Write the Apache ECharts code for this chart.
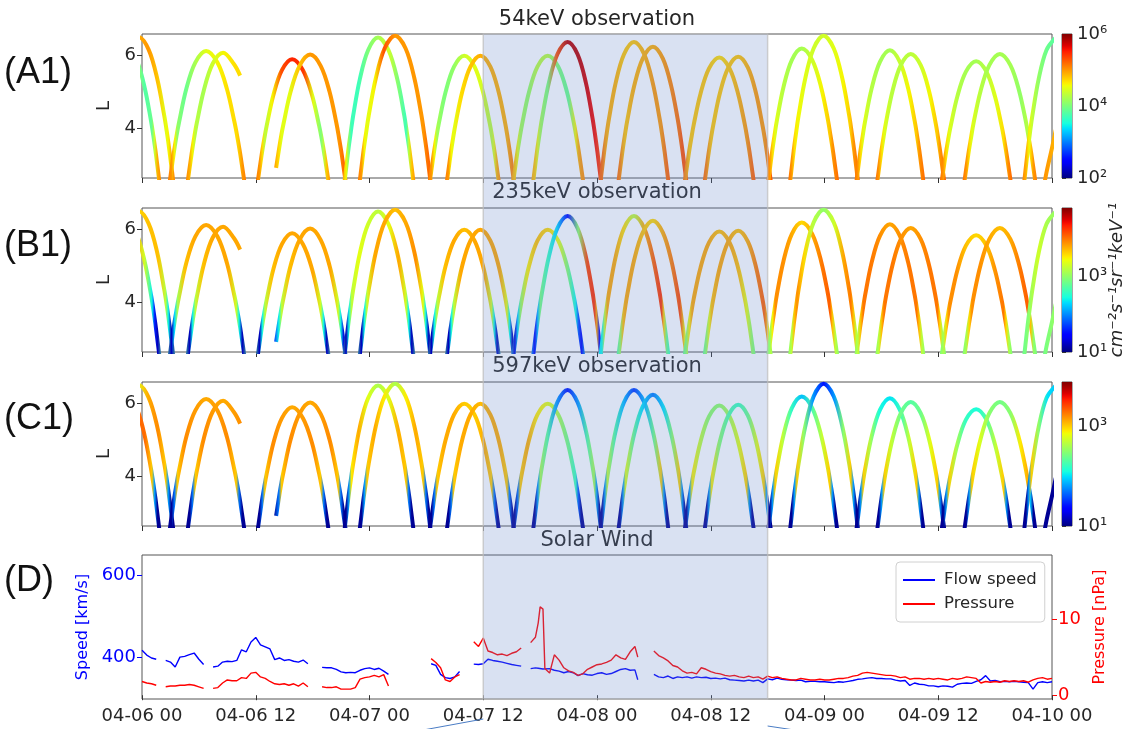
<!DOCTYPE html>
<html><head><meta charset="utf-8">
<script src="https://cdn.jsdelivr.net/npm/echarts@6/dist/echarts.min.js"></script>
<style>html,body{margin:0;padding:0;background:#fff}#c{width:1132px;height:729px}</style>
</head><body><div id="c"></div>
<script>
// ---------------- DATA ----------------
const timeTickLabels = ['04-06 00','04-06 12','04-07 00','04-07 12','04-08 00','04-08 12','04-09 00','04-09 12','04-10 00'];
const highlightHours = [36, 66];

// orbit arches (hours since 04-06 00, L shell), probe tracks shared by the three energy panels
const archHours = [
 [-1.6,-0.58,0.27,0.95,1.19,1.46,2.07],
 [-1.5,-0.4,0.70,1.62,2.35,2.61,2.90,3.56],
 [2.66,3.34,3.64,3.91,4.67,5.62,6.76,7.96,8.96,9.76,10.04,10.36,11.08],
 [4.56,5.23,5.52,5.78,6.52,7.44,8.55,9.69,10.35],
 [11.96,12.61,12.90,13.15,13.87,14.76,15.84,16.98,17.93,18.69,18.96,19.26,19.94],
 [14.15,14.66,14.93,15.68,16.62,17.74,18.85,19.78,20.52,20.77,21.07,21.74],
 [21.12,21.75,22.03,22.27,22.97,23.85,24.9,26.01,26.94,27.68,27.93,28.23,28.9],
 [22.7,23.37,23.67,23.92,24.66,25.59,26.7,27.81,28.74,29.48,29.73,30.03,30.7],
 [30.11,30.76,31.05,31.3,32.02,32.92,34.0,35.08,35.98,36.7,36.95,37.24,37.89],
 [31.92,32.55,32.83,33.07,33.77,34.65,35.7,36.75,37.63,38.33,38.57,38.85,39.48],
 [38.91,39.56,39.85,40.1,40.82,41.72,42.8,43.91,44.84,45.58,45.83,46.13,46.8],
 [41.01,41.66,41.95,42.2,42.92,43.82,44.9,45.95,46.83,47.53,47.77,48.05,48.68],
 [48.12,48.75,49.03,49.27,49.97,50.85,51.9,52.98,53.88,54.6,54.85,55.14,55.79],
 [50.01,50.66,50.95,51.2,51.92,52.82,53.9,54.95,55.83,56.53,56.77,57.05,57.68],
 [57.01,57.66,57.95,58.2,58.92,59.82,60.9,61.98,62.88,63.6,63.85,64.14,64.79],
 [59.12,59.75,60.03,60.27,60.97,61.85,62.9,63.92,64.77,65.45,65.69,65.96,66.57],
 [65.82,66.45,66.73,66.97,67.67,68.55,69.6,70.71,71.64,72.38,72.63,72.93,73.6],
 [68.12,68.75,69.03,69.27,69.97,70.85,71.9,72.98,73.88,74.6,74.85,75.14,75.79],
 [75.12,75.75,76.03,76.27,76.97,77.85,78.9,79.95,80.83,81.53,81.77,82.05,82.68],
 [77.32,77.95,78.23,78.47,79.17,80.05,81.1,82.15,83.03,83.73,83.97,84.25,84.88],
 [84.11,84.76,85.05,85.3,86.02,86.92,88.0,89.08,89.98,90.7,90.95,91.24,91.89],
 [86.5,87.17,87.47,87.72,88.46,89.39,90.5,91.61,92.54,93.28,93.53,93.83,94.5],
 [92.84,93.43,93.69,93.92,94.58,95.41,96.4],
 [94.9,95.4,96.0,96.4]
];
const archL = [
 [6.2,5.88,5.13,4.2,3.8,3.3,2.01],
 [6.17,6.52,6.17,5.35,4.34,3.91,3.36,1.96],
 [2.02,3.29,3.78,4.16,5.08,5.81,6.13,5.81,5.08,4.16,3.78,3.29,2.02],
 [2.03,3.28,3.76,4.14,5.04,5.77,6.08,5.77,5.45],
 [2.06,3.24,3.70,4.06,4.92,5.60,5.90,5.60,4.92,4.06,3.70,3.24,2.06],
 [2.90,3.75,4.12,5.01,5.72,6.03,5.72,5.01,4.12,3.75,3.27,2.04],
 [1.96,3.36,3.90,4.33,5.34,6.15,6.50,6.15,5.34,4.33,3.90,3.36,1.96],
 [1.95,3.37,3.92,4.35,5.37,6.20,6.55,6.20,5.37,4.35,3.92,3.37,1.95],
 [2.05,3.26,3.74,4.11,4.99,5.70,6.00,5.70,4.99,4.11,3.74,3.26,2.05],
 [2.05,3.26,3.74,4.11,4.99,5.70,6.00,5.70,4.99,4.11,3.74,3.26,2.05],
 [2.05,3.26,3.74,4.11,4.99,5.70,6.00,5.70,4.99,4.11,3.74,3.26,2.05],
 [1.98,3.33,3.86,4.27,5.25,6.04,6.38,6.04,5.25,4.27,3.86,3.33,1.98],
 [1.98,3.33,3.86,4.27,5.25,6.04,6.38,6.04,5.25,4.27,3.86,3.33,1.98],
 [2.00,3.31,3.82,4.22,5.16,5.92,6.25,5.92,5.16,4.22,3.82,3.31,2.00],
 [2.05,3.25,3.72,4.09,4.95,5.65,5.95,5.65,4.95,4.09,3.72,3.25,2.05],
 [2.05,3.26,3.73,4.09,4.97,5.67,5.97,5.67,4.97,4.09,3.73,3.26,2.05],
 [2.01,3.30,3.80,4.20,5.13,5.88,6.20,5.88,5.13,4.20,3.80,3.30,2.01],
 [1.95,3.37,3.92,4.35,5.37,6.20,6.55,6.20,5.37,4.35,3.92,3.37,1.95],
 [2.02,3.29,3.78,4.17,5.09,5.83,6.15,5.83,5.09,4.17,3.78,3.29,2.02],
 [2.04,3.27,3.75,4.13,5.02,5.74,6.05,5.74,5.02,4.13,3.75,3.27,2.04],
 [2.07,3.23,3.69,4.04,4.88,5.56,5.85,5.56,4.88,4.04,3.69,3.23,2.07],
 [2.04,3.27,3.75,4.13,5.02,5.74,6.05,5.74,5.02,4.13,3.75,3.27,2.04],
 [1.96,3.36,3.90,4.33,5.34,6.15,6.50],
 [2.0,2.75,3.45,3.95]
];
// log10 flux along each arch
const flux54 = [
 [4.4,4.2,3.8,3.9,4.4,4.9,5.2],
 [4.9,4.9,5.0,4.8,4.5,4.6,4.9,5.2],
 [5.2,5.0,4.6,4.1,3.9,4.2,4.5,4.6,4.7,4.7,4.8,5.0,5.2],
 [5.2,4.9,4.6,4.3,4.2,4.4,4.6,4.7,4.7],
 [5.2,5.0,4.7,4.3,4.6,5.3,5.5,5.4,4.5,4.0,4.3,4.8,5.2],
 [5.0,4.7,4.5,4.5,4.8,5.0,5.0,5.0,5.0,5.1,5.2,5.3],
 [5.2,4.6,4.0,3.7,3.7,4.0,4.2,4.4,4.0,3.7,4.3,4.8,5.2],
 [5.2,5.0,4.6,4.5,4.6,5.3,5.0,5.0,5.0,5.0,5.1,5.2,5.3],
 [5.2,5.0,4.6,4.2,4.0,4.1,4.4,4.5,4.4,4.3,4.5,4.9,5.2],
 [5.2,5.0,4.6,4.5,4.7,4.8,4.9,4.9,4.9,4.9,5.0,5.1,5.2],
 [5.1,4.8,4.5,4.2,4.1,4.3,4.3,4.0,3.9,4.6,4.9,5.0,5.1],
 [5.0,4.8,4.5,4.2,4.0,5.3,5.8,5.8,5.7,5.6,5.5,5.4,5.4],
 [5.3,5.2,5.0,4.9,4.9,4.8,4.8,4.9,5.0,5.0,5.1,5.2,5.3],
 [5.3,5.1,4.9,4.8,4.9,4.9,4.9,5.0,5.1,5.2,5.3,5.3,5.3],
 [5.3,5.0,4.8,4.8,4.8,4.8,4.7,4.8,4.9,5.0,5.1,5.2,5.3],
 [5.3,5.1,4.9,4.8,4.8,4.8,4.8,4.9,5.0,5.0,5.1,5.2,5.3],
 [5.3,5.0,4.7,4.5,4.3,4.2,4.2,4.4,4.6,4.8,5.0,5.1,5.3],
 [5.3,5.0,4.7,4.6,4.5,4.4,4.4,4.5,4.6,4.8,5.0,5.1,5.3],
 [5.3,5.0,4.7,4.5,4.3,4.2,4.2,4.4,4.6,4.8,5.0,5.1,5.3],
 [5.3,5.0,4.7,4.5,4.3,4.3,4.3,4.4,4.6,4.8,5.0,5.1,5.3],
 [5.3,5.0,4.7,4.5,4.3,4.2,4.2,4.3,4.5,4.7,4.9,5.1,5.3],
 [5.3,5.0,4.7,4.5,4.3,4.2,4.2,4.2,4.1,4.3,4.7,5.0,5.2],
 [5.2,4.9,4.6,4.4,4.1,3.9,3.8],
 [5.0,5.0,4.9,4.8]
];
const flux235 = [
 [3.8,3.8,3.3,2.4,1.6,1.2,2.8],
 [3.6,3.6,3.7,3.7,3.2,2.4,1.2,2.8],
 [2.8,1.2,2.3,3.1,3.7,3.8,3.8,3.8,3.8,3.3,2.4,1.2,2.8],
 [2.8,1.2,2.4,3.2,3.7,3.8,3.8,3.8,3.8],
 [2.8,1.2,2.4,3.2,3.7,3.8,3.8,3.8,3.8,3.3,2.4,1.2,2.8],
 [1.6,2.4,3.2,3.7,3.8,3.8,3.8,3.8,3.3,2.4,1.3,2.8],
 [2.8,1.2,2.4,3.2,3.4,3.3,3.2,3.4,3.8,3.3,2.4,1.2,2.8],
 [2.8,1.2,2.4,3.3,3.8,3.8,3.7,3.8,3.9,3.4,2.4,1.2,2.8],
 [2.8,1.2,2.4,3.2,3.7,3.8,3.7,3.8,3.8,3.3,2.4,1.2,2.8],
 [2.8,1.2,2.4,3.2,3.8,3.8,3.8,3.8,3.8,3.4,2.4,1.2,2.8],
 [2.6,1.3,2.3,3.0,3.5,3.7,3.6,3.4,2.9,2.4,1.8,1.4,2.4],
 [2.4,1.4,2.2,2.9,2.6,2.3,1.5,3.0,4.2,4.3,3.8,1.5,2.6],
 [2.3,2.4,3.3,3.8,3.8,3.6,3.2,3.8,4.1,4.3,3.6,2.8,2.4],
 [2.4,3.0,3.7,3.8,3.8,3.7,3.6,3.8,4.0,4.2,3.9,3.4,2.8],
 [2.6,3.0,3.5,3.8,3.8,3.8,3.7,3.8,3.7,3.4,3.2,3.0,2.8],
 [2.6,3.0,3.4,3.7,3.8,3.8,3.7,3.8,4.0,4.1,3.8,3.3,2.8],
 [2.8,3.0,3.5,3.9,3.9,3.8,3.6,3.8,4.0,4.1,3.7,3.2,2.8],
 [2.8,3.2,3.7,3.9,3.6,3.2,3.0,3.3,3.8,4.0,3.7,3.2,2.8],
 [2.8,3.2,3.7,4.0,4.0,3.9,3.8,3.9,4.0,4.0,3.7,3.2,2.8],
 [2.8,3.2,3.7,4.0,4.0,3.9,3.8,3.9,4.0,4.0,3.6,3.1,2.8],
 [2.8,3.1,3.6,3.9,3.9,3.7,3.6,3.7,3.9,4.0,3.6,3.1,2.8],
 [2.8,3.1,3.6,3.9,3.9,3.8,3.7,3.8,4.0,4.1,3.7,3.0,2.8],
 [2.8,2.9,3.0,3.1,3.3,3.1,3.0],
 [2.8,2.9,3.0,3.1]
];
const flux597 = [
 [3.3,3.3,3.3,3.0,1.8,1.05,1.05],
 [2.8,2.8,3.1,3.2,3.0,1.8,1.05,1.05],
 [1.05,1.05,1.7,3.0,3.2,3.15,3.1,3.15,3.2,3.0,1.7,1.05,1.05],
 [1.05,1.05,1.7,3.0,3.2,3.15,3.1,3.15,3.2],
 [1.05,1.05,1.7,3.0,3.2,3.15,3.1,3.15,3.2,3.0,1.7,1.05,1.05],
 [1.05,1.7,3.0,3.2,3.15,3.1,3.15,3.2,3.0,1.7,1.05,1.05],
 [1.05,1.05,1.8,2.9,3.1,2.8,2.6,2.8,3.1,3.0,1.7,1.05,1.05],
 [1.05,1.05,1.8,3.0,3.1,2.9,2.6,2.9,3.1,3.0,1.7,1.05,1.05],
 [1.05,1.05,1.7,3.0,3.1,3.1,3.0,3.0,3.1,3.0,1.7,1.05,1.05],
 [1.05,1.05,1.7,3.0,3.1,3.1,3.05,3.1,3.1,3.0,1.7,1.05,1.05],
 [1.05,1.05,1.7,3.0,3.1,2.9,2.8,2.6,2.4,2.2,1.6,1.05,1.05],
 [1.05,1.05,1.8,2.6,2.3,1.8,1.4,1.8,2.3,2.6,1.8,1.05,1.05],
 [1.05,1.05,1.8,2.7,2.3,1.9,1.5,1.9,2.4,3.0,1.8,1.05,1.05],
 [1.05,1.05,1.8,2.8,2.4,2.0,1.7,2.0,2.5,3.0,1.8,1.05,1.05],
 [1.05,1.05,1.8,2.9,2.7,2.5,2.5,2.6,2.8,3.0,1.8,1.05,1.05],
 [1.05,1.05,1.8,2.9,2.5,2.3,2.2,2.4,2.8,3.0,1.8,1.05,1.05],
 [1.05,1.05,1.8,3.0,2.7,2.2,1.9,2.3,2.7,3.0,1.8,1.05,1.05],
 [1.05,1.05,1.8,3.0,2.5,1.8,1.4,1.8,2.5,3.0,1.8,1.05,1.05],
 [1.05,1.05,1.8,3.0,2.6,2.1,2.0,2.2,2.7,3.0,1.8,1.05,1.05],
 [1.05,1.05,1.8,3.0,2.7,2.4,2.3,2.4,2.8,3.0,1.8,1.05,1.05],
 [1.05,1.05,1.8,3.0,2.6,2.2,2.1,2.3,2.7,3.0,1.8,1.05,1.05],
 [1.05,1.05,1.8,3.0,2.8,2.5,2.4,2.5,2.9,3.1,1.9,1.05,1.05],
 [1.05,1.05,1.8,3.0,2.5,2.0,1.9],
 [1.05,1.05,1.05,1.3]
];

// solar wind (hours since 04-06 00)
const swHours = [0,0.5,1,1.5,2,2.5,3,3.5,4,4.5,5,5.5,6,6.5,7,7.5,8,8.5,9,9.5,10,10.5,11,11.5,12,12.5,13,13.5,14,14.5,15,15.5,16,16.5,17,17.5,18,
 19,19.5,20,20.5,21,21.5,22,22.5,23,23.5,24,24.5,25,25.5,26,27,30.5,31,31.5,32,32.5,33,33.5,34,
 35,35.5,36,36.5,37,37.5,38,38.5,39,39.5,40,40.5,41,41.5,41.8,42,42.3,42.5,43,43.5,44,44.5,45,45.5,46,46.5,47,47.5,48,48.5,49,49.5,50,50.5,51,51.5,52,52.3,53,
 54,54.5,55,55.5,56,56.5,57,57.5,58,58.5,59,59.5,60,60.5,61,61.5,62,62.5,63,63.5,64,64.5,65,65.5,66,66.5,67,67.5,68,68.5,69,69.5,70,70.5,71,71.5,72,72.5,73,73.5,74,74.5,75,75.5,
 76,76.5,77,77.5,78,78.5,79,79.5,80,80.5,81,81.5,82,82.5,83,83.5,84,84.5,85,85.5,86,86.5,87,87.5,88,88.5,89,89.5,90,90.5,91,91.5,92,92.5,93,93.5,94,94.5,95,95.5,96];
const swSpeed = [417,405,398,395,null,392,388,376,400,402,406,410,395,382,null,376,378,388,390,389,392,418,413,437,448,430,425,420,394,398,392,394,390,388,393,384,null,
 375,374,374,370,364,362,363,362,368,372,374,370,373,366,358,null,384,380,358,350,348,352,365,null,
 383,382,384,395,392,390,388,385,382,380,378,null,372,374,373,372,371,370,372,368,366,362,365,362,355,360,357,356,360,362,358,360,365,370,372,368,369,345,null,
 358,352,350,354,348,352,350,352,349,352,350,351,348,349,347,349,345,344,343,342,344,342,344,338,347,345,349,346,345,344,343,344,340,341,341,340,340,339,338,340,339,341,343,346,
 347,349,350,348,348,347,347,344,342,343,331,337,334,333,330,330,328,330,329,327,334,336,337,336,341,345,355,342,343,340,341,340,341,340,339,338,322,338,340,338,340];
const swPressure = [1.8,1.6,1.5,1.3,null,1.1,1.2,1.2,1.3,1.3,1.4,1.3,1.1,0.9,null,0.9,1.0,1.6,2.0,1.9,1.9,2.3,2.2,2.9,3.0,2.4,2.2,1.8,1.5,1.4,1.5,1.3,1.5,1.2,1.6,1.1,null,
 1.1,1.0,1.0,1.1,0.8,0.8,0.8,1.0,2.1,2.3,2.4,2.6,2.4,2.7,1.2,null,4.8,4.3,3.6,2.0,1.8,2.4,2.7,null,
 7.0,6.4,7.5,5.8,5.6,5.3,5.4,5.2,5.5,5.7,6.2,null,6.9,7.6,9.5,11.6,11.3,3.5,2.9,5.3,4.6,3.6,3.2,3.0,2.6,2.8,3.4,3.7,4.0,4.1,4.3,4.6,5.3,4.9,4.7,5.7,6.4,5.0,null,
 5.8,5.2,4.9,4.5,3.9,3.7,3.2,2.9,3.0,2.8,3.6,3.4,3.1,2.9,2.8,2.6,2.5,2.6,2.4,2.3,2.5,2.3,2.4,2.1,2.5,2.3,2.4,2.2,2.1,2.0,2.0,2.2,2.1,2.0,2.0,2.1,2.0,2.0,2.1,2.2,2.2,2.3,2.5,2.6,
 2.9,3.0,2.9,2.8,2.7,2.6,2.6,2.5,2.3,2.4,2.1,2.2,2.2,2.1,2.2,2.1,2.2,2.1,2.0,2.2,2.1,2.2,2.4,2.3,2.2,1.6,1.8,1.7,1.8,1.7,1.9,1.8,1.9,1.8,1.9,1.7,2.0,2.2,2.3,2.1,2.2];

// ---------------- CHART ----------------
const FONT = 'DejaVu Sans';
const panels = [
 {title:'54keV observation', flux:flux54, cmin:2, cmax:6, cticks:[2,4,6], tag:'(A1)', top:34},
 {title:'235keV observation', flux:flux235, cmin:1, cmax:4.82, cticks:[1,3], tag:'(B1)', top:208},
 {title:'597keV observation', flux:flux597, cmin:1, cmax:3.88, cticks:[1,3], tag:'(C1)', top:382}
];
const dTop = 555, PH = 144, PL = 142, PW = 910;

function jet(f){
  f = Math.max(0, Math.min(1, f));
  const ip = pts => { for (let i=1;i<pts.length;i++){ if (f<=pts[i][0]){ const a=pts[i-1], b=pts[i]; return a[1]+(b[1]-a[1])*(f-a[0])/(b[0]-a[0]); } } return pts[pts.length-1][1]; };
  const r = ip([[0,0],[0.35,0],[0.66,1],[0.89,1],[1,0.5]]);
  const g = ip([[0,0],[0.125,0],[0.375,1],[0.64,1],[0.91,0],[1,0]]);
  const b = ip([[0,0.5],[0.11,1],[0.34,1],[0.65,0],[1,0]]);
  return 'rgb(' + Math.round(r*255) + ',' + Math.round(g*255) + ',' + Math.round(b*255) + ')';
}
const jetStops = [];
for (let i=0;i<=50;i++){ jetStops.push({offset:i/50, color:jet(i/50)}); }
const SUP = {'1':'¹','2':'²','3':'³','4':'⁴','5':'⁵','6':'⁶'};

const grid = [], xAxis = [], yAxis = [], series = [];
panels.forEach((p, i) => {
  grid.push({left:PL, top:p.top, width:PW, height:PH, show:true, borderColor:'#555', borderWidth:1, backgroundColor:'transparent'});
});
grid.push({left:PL, top:dTop, width:PW, height:PH, show:true, borderColor:'#555', borderWidth:1, backgroundColor:'transparent'});
panels.forEach((p, i) => {
  grid.push({left:1062, top:p.top, width:10, height:PH, show:true, borderColor:'#555', borderWidth:1, backgroundColor:'transparent'});
});

for (let i=0;i<4;i++){
  xAxis.push({type:'value', gridIndex:i, min:0, max:96, interval:12,
    axisLine:{show:false}, splitLine:{show:false},
    axisTick:{show:true, length:5, lineStyle:{color:'#333'}},
    axisLabel:{show:i===3, margin:8, fontSize:18, color:'#262626', fontFamily:FONT,
      formatter: v => timeTickLabels[Math.round(v/12)] || ''}});
}
for (let i=0;i<3;i++){
  xAxis.push({type:'value', gridIndex:4+i, min:0, max:1, show:false});
}
panels.forEach((p, i) => {
  yAxis.push({type:'value', gridIndex:i, min:2.62, max:6.6,
    axisLine:{show:false}, splitLine:{show:false},
    axisTick:{show:true, length:5, customValues:[4,6], lineStyle:{color:'#333'}},
    axisLabel:{customValues:[4,6], fontSize:18, color:'#262626', fontFamily:FONT, margin:6},
    name:'L', nameLocation:'middle', nameGap:26, nameRotate:90,
    nameTextStyle:{fontSize:18, color:'#262626', fontFamily:FONT}});
});
yAxis.push({type:'value', gridIndex:3, position:'left', min:298, max:649,
  axisLine:{show:false}, splitLine:{show:false},
  axisTick:{show:true, length:5, customValues:[400,600], lineStyle:{color:'#0000ff'}},
  axisLabel:{customValues:[400,600], fontSize:18, color:'#0000ff', fontFamily:FONT, margin:6},
  name:'Speed [km/s]', nameLocation:'middle', nameGap:41, nameRotate:90,
  nameTextStyle:{fontSize:16, color:'#0000ff', fontFamily:FONT}});
yAxis.push({type:'value', gridIndex:3, position:'right', min:-0.5, max:18.4,
  axisLine:{show:false}, splitLine:{show:false},
  axisTick:{show:true, length:5, customValues:[0,10], lineStyle:{color:'#ff0000'}},
  axisLabel:{customValues:[0,10], fontSize:18, color:'#ff0000', fontFamily:FONT, margin:6},
  name:'Pressure [nPa]', nameLocation:'middle', nameGap:40, nameRotate:90,
  nameTextStyle:{fontSize:16, color:'#ff0000', fontFamily:FONT}});
panels.forEach((p, i) => {
  yAxis.push({type:'value', gridIndex:4+i, position:'right', min:p.cmin, max:p.cmax,
    axisLine:{show:false}, splitLine:{show:false},
    axisTick:{show:true, length:4, customValues:p.cticks, lineStyle:{color:'#333'}},
    axisLabel:{customValues:p.cticks, fontSize:18, color:'#262626', fontFamily:FONT, margin:5,
      formatter: v => '10' + (SUP[String(Math.round(v))] || '')}});
});

// arches
panels.forEach((p, pi) => {
  archHours.forEach((hrs, k) => {
    const Ls = archL[k], fx = p.flux[k];
    const t0 = hrs[0], t1 = hrs[hrs.length-1];
    const stops = hrs.map((t, j) => ({offset:(t-t0)/(t1-t0), color:jet((fx[j]-p.cmin)/(p.cmax-p.cmin))}));
    series.push({type:'line', xAxisIndex:pi, yAxisIndex:pi, data:hrs.map((t, j) => [t, Ls[j]]),
      smooth:0.35, showSymbol:false, symbol:'none', silent:true, clip:true,
      lineStyle:{width:4, color:{type:'linear', x:0, y:0, x2:1, y2:0, colorStops:stops}}, z:2});
  });
  series.push({type:'custom', xAxisIndex:4+pi, yAxisIndex:5+pi, silent:true,
    data:[[0, p.cmin, 1, p.cmax]],
    renderItem:(params, api) => {
      const a = api.coord([api.value(0), api.value(3)]);
      const b = api.coord([api.value(2), api.value(1)]);
      return {type:'rect', shape:{x:a[0], y:a[1], width:b[0]-a[0], height:b[1]-a[1]},
        style:{fill:{type:'linear', x:0, y:1, x2:0, y2:0, colorStops:jetStops}}};
    }});
});
series.push({name:'Flow speed', type:'line', xAxisIndex:3, yAxisIndex:3,
  data:swHours.map((t, j) => [t, swSpeed[j]]), showSymbol:false, symbol:'none', connectNulls:false,
  lineStyle:{color:'#0000ff', width:1.4}, itemStyle:{color:'#0000ff'}, silent:true});
series.push({name:'Pressure', type:'line', xAxisIndex:3, yAxisIndex:4,
  data:swHours.map((t, j) => [t, swPressure[j]]), showSymbol:false, symbol:'none', connectNulls:false,
  lineStyle:{color:'#ff0000', width:1.4}, itemStyle:{color:'#ff0000'}, silent:true});

const chart = echarts.init(document.getElementById('c'), null, {renderer:'canvas', width:1132, height:729});
chart.setOption({
  animation:false,
  backgroundColor:'#ffffff',
  textStyle:{fontFamily:FONT},
  grid, xAxis, yAxis, series,
  legend:{data:['Flow speed','Pressure'], orient:'vertical', left:896, top:562,
    icon:'rect', itemWidth:32, itemHeight:2, itemGap:4, padding:[8,8,8,7],
    backgroundColor:'rgba(255,255,255,0.8)', borderColor:'#d0d0d0', borderWidth:1, borderRadius:4,
    selectedMode:false,
    textStyle:{fontSize:16.5, fontFamily:FONT, color:'#262626', lineHeight:20, padding:[0,0,0,4]}}
});

// decorations
const xa = chart.convertToPixel({xAxisIndex:3}, highlightHours[0]);
const xb = chart.convertToPixel({xAxisIndex:3}, highlightHours[1]);
const yTop = chart.convertToPixel({yAxisIndex:0}, 6.6);
const yBot = chart.convertToPixel({yAxisIndex:3}, 298);
const cx = PL + PW/2;
const txt = (x, y, text, font, fill, align, rot) => ({type:'text', x, y, rotation:rot||0, z:1, silent:true,
  style:{text, font, fill, align, textAlign:align, verticalAlign:'middle', textVerticalAlign:'middle'}});
const g = [];
[['54keV observation',20],['235keV observation',193],['597keV observation',367],['Solar Wind',541]].forEach(([t,y]) => {
  g.push(txt(cx, y, t, '21px "DejaVu Sans"', '#262626', 'center'));
});
[['(A1)',73],['(B1)',246],['(C1)',419],['(D)',581]].forEach(([t,y]) => {
  g.push(txt(4, y, t, '36px "Liberation Sans"', '#111', 'left'));
});
g.push(txt(1117, 280, 'cm⁻²s⁻¹sr⁻¹keV⁻¹', 'italic 18px "DejaVu Sans"', '#262626', 'center', Math.PI/2));
g.push({type:'rect', z:100, silent:true, shape:{x:xa, y:yTop, width:xb-xa, height:yBot-yTop},
  style:{fill:'rgba(103,135,203,0.25)', stroke:'rgba(190,190,190,0.7)', lineWidth:1.5}});
g.push({type:'line', z:100, silent:true, shape:{x1:xa, y1:yBot+20, x2:xa-60, y2:yBot+31}, style:{stroke:'#4a7cc4', lineWidth:1}});
g.push({type:'line', z:100, silent:true, shape:{x1:xb, y1:yBot+27, x2:xb+40, y2:yBot+33}, style:{stroke:'#4a7cc4', lineWidth:1}});
chart.setOption({graphic:{elements:g}});
</script>
</body></html>
